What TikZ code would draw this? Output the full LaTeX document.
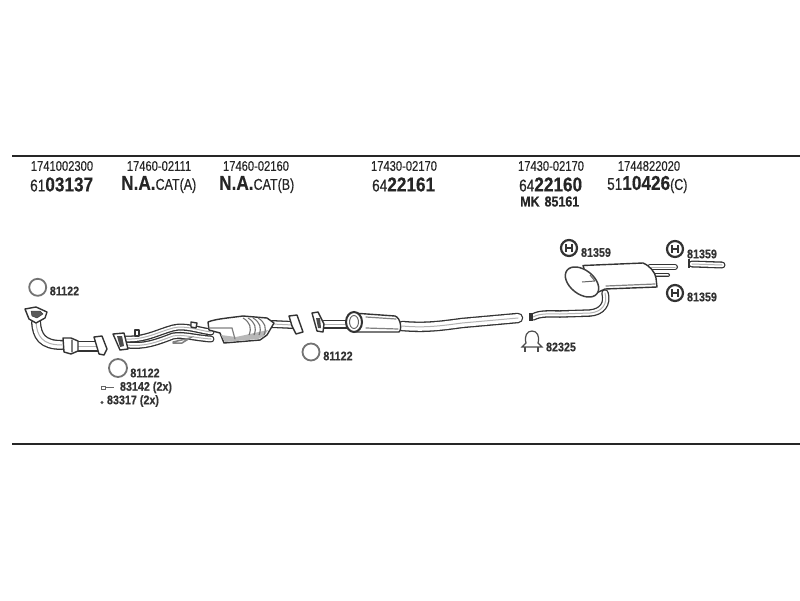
\documentclass[tikz,border=0pt]{standalone}
\usepackage{fontspec}
\setmainfont{Liberation Sans}
\newfontfamily\nrw[FakeStretch=0.8,FakeBold=0.25]{Liberation Sans}
\newfontfamily\nrwb[FakeStretch=0.86,FakeBold=0.3]{Liberation Sans Bold}
\newcommand{\smtxt}{\fontsize{14}{14}\selectfont\nrw}
\newcommand{\midtxt}{\fontsize{17}{17}\selectfont\nrw}
\newcommand{\captxt}{\fontsize{15.6}{15.6}\selectfont\nrw}
\newcommand{\bigtxt}[1]{{\fontsize{20}{20}\selectfont\nrwb #1}}
\tikzset{
  hdr/.style={inner sep=0pt,font=\smtxt,text=black!85},
  part/.style={inner sep=0pt,font=\midtxt,anchor=west,text=black!85},
  lbl/.style={inner sep=0pt,font=\fontsize{12.5}{12.5}\selectfont\nrwb,text=black!80},
  ringa/.style={draw=black!55,line width=1.8pt,fill=white},
  hexa/.style={draw=black!80,line width=2.2pt,fill=white},
  body/.style={draw=black!80,line width=1.4pt,fill=white,line join=round},
  shade/.style={draw=black!50,line width=1.2pt,line cap=round},
  outer/.style={draw=black!80,line cap=round,line join=round},
  inner/.style={draw=white,line cap=round,line join=round},
  core/.style={draw=black!30,line width=1pt,line cap=round,line join=round}
}
\newcommand{\pipe}[2]{%
  \path[outer,line width=#1pt] #2;
  \path[inner,line width=#1pt-2.6pt] #2;
  \path[core] #2;}
\begin{document}
\begin{tikzpicture}[x=1pt,y=-1pt]
\useasboundingbox (0,0) rectangle (800,600);
\fill[white] (0,0) rectangle (800,600);
\draw[line width=2pt,black!85] (12,155.5) -- (800,155.5);
\draw[line width=1.6pt,black!85] (12,444) -- (800,444);
% header
\node[hdr] (h1) at (62,166) {1741002300};
\node[hdr] (h2) at (159,166) {17460-02111};
\node[hdr] (h3) at (256,166) {17460-02160};
\node[hdr] (h4) at (404,166) {17430-02170};
\node[hdr] (h5) at (551,166) {17430-02170};
\node[hdr] (h6) at (649,166) {1744822020};
\node[part] (p1) at (30,184.5) {61\bigtxt{03137}};
\node[part] (p2) at (121,184.5) {\bigtxt{N.A.}{\captxt CAT(A)}};
\node[part] (p3) at (219,184.5) {\bigtxt{N.A.}{\captxt CAT(B)}};
\node[part] (p4) at (372,184.5) {64\bigtxt{22161}};
\node[part] (p5) at (519,184.5) {64\bigtxt{22160}};
\node[part] (p6) at (607,184.5) {51\bigtxt{10426}{\captxt (C)}};
\node[part,font=\fontsize{14.5}{14.5}\selectfont\nrwb] (p7) at (520,201.5) {MK\hspace{5pt}85161};
% rings
\draw[ringa] (37.7,287.3) circle (8.5);
\draw[ringa] (118,368) circle (9);
\draw[ringa] (311,352) circle (8.5);
\node[lbl] (r1) at (64.5,291) {81122};
\node[lbl] (r2) at (145,373) {81122};
\node[lbl] (r3) at (338,356) {81122};
\node[lbl] (r4) at (146,387.5) {83142 (2x)};
\node[lbl] (r5) at (133,401) {83317 (2x)};
\draw[black!60,line width=0.8pt] (101,386) rectangle (105,389);
\draw[black!60,line width=1.6pt] (105,387.5) -- (114,387.5);
\fill[black!70] (102,402.5) circle (1.7);
% front pipe
\pipe{10}{(36,322) .. controls (37,336) and (42,345) .. (62,345)}
\pipe{11}{(76,346) -- (98,346)}
\draw[body] (63,338) -- (71,338) -- (78,341) -- (78,351) -- (71,354) -- (64,352) -- cycle;
\draw[shade] (72,340) -- (72,352);
\draw[body] (94,337) -- (102,336) -- (107,349) -- (104,355) -- (99,354) -- cycle;
\draw[body] (25,309) -- (36,307) -- (47,312) -- (45,318) -- (36,323) -- (29,319) -- cycle;
\draw[fill=black!65,draw=black!80] (31,311) -- (40,311) -- (43,314) -- (37,318) -- (32,316) -- cycle;
% middle pipe
\pipe{7}{(127,345) .. controls (145,347) and (157,342) .. (173,336) .. controls (183,334) and (195,338) .. (211,339)}
\pipe{7}{(125,339) .. controls (145,340) and (158,332) .. (173,328) .. controls (185,325) and (197,330) .. (211,332)}
\draw[body] (113,334) -- (124,333) -- (128,349) -- (120,350) -- cycle;
\fill[black!70] (117,336) -- (122,336) -- (124,346) -- (120,347) -- cycle;
\draw[body] (135,330) rectangle (139,336);
\draw[shade,line width=1.5pt] (173,342) -- (190,338) -- (182,343) -- (173,343);
\draw[body] (191,322) -- (197,323) -- (196,328) -- (191,327) -- cycle;
% cat
\pipe{8}{(272,324) -- (293,325)}
\draw[body] (208,322) .. controls (215,319) and (228,318) .. (243,316) -- (267,318) -- (274,323) -- (267,335) -- (260,340) -- (224,343) -- (220,333) -- (209,330) -- cycle;
\fill[black!28] (221,335) -- (236,337) -- (268,330) -- (264,336) -- (258,339) -- (225,342) -- cycle;
\foreach \i in {0,5,10,15}{\draw[black!55,line width=1.1pt] (243+\i,318) .. controls (250+\i,322) and (252+\i,328) .. (249+\i,335);}
\draw[shade] (209,328) -- (232,328) -- (235,339);
\draw[body] (289,316) -- (297,315) -- (303,332) -- (296,334) -- (292,326) -- cycle;
% rear of centre
\pipe{10.5}{(402,326) .. controls (425,328) and (440,326) .. (462,323) -- (518,318)}
\pipe{9}{(324,324) -- (350,324)}
\draw[body] (312,313) -- (318,312) -- (324,324) -- (323,332) -- (317,331) -- cycle;
\fill[black!70] (316,318) -- (320,318) -- (321,328) -- (318,328) -- cycle;
\draw[body] (353,313) -- (395,316) .. controls (401,318) and (402,330) .. (399,332) -- (353,332) -- cycle;
\draw[shade] (366,328) -- (398,329);
\draw[shade] (366,317) -- (396,319);
\draw[black!80,line width=2pt,fill=white] (354,322) ellipse (8 and 10);
\draw[black!60,line width=1pt] (354,322) ellipse (4.5 and 6.5);
% rear
\pipe{7.5}{(533,317) .. controls (540,313) and (550,314) .. (560,314) -- (590,313) .. controls (602,312) and (608,304) .. (605,293)}
\fill[black!80] (529,312.5) rectangle (533,321);
\pipe{6}{(650,267) -- (675,267)}
\pipe{4}{(655,275) -- (668,275)}
\draw[body] (583,265.5) -- (643,263) .. controls (650,266) and (655,272) .. (656,278) -- (657,287) -- (605,289) -- (592,295) -- cycle;
\draw[shade] (606,286) -- (655,284);
\draw[black!75,line width=1.5pt,fill=white,rotate around={-38:(582,282)}] (582,282) ellipse (19 and 12);
\draw[black!60,line width=1pt] (582,282) -- (595,281) (590,275) -- (595,281);
\pipe{7}{(692,264) -- (722,265)}
\draw[black!80,line width=1.8pt] (689,259) -- (689,268);
% clamp
\draw[black!70,line width=1.2pt] (522,347) -- (526,343) .. controls (524,336) and (527,331) .. (532,331) .. controls (537,331) and (540,336) .. (538,343) -- (542,347) -- cycle;
\draw[black!70,line width=1.4pt] (525,347) -- (525,352) (538,347) -- (538,352);
\node[lbl] (r6) at (561,347) {82325};
% hex rings
\foreach \cx/\cy in {569/248,675/249,675/293}{
 \draw[hexa] (\cx,\cy) circle (8);
 \draw[black!80,line width=1.1pt] (\cx-3,\cy-4) -- (\cx-3,\cy+4) (\cx+3,\cy-4) -- (\cx+3,\cy+4) (\cx-3,\cy) -- (\cx+3,\cy);
}
\node[lbl] (r7) at (596,252.5) {81359};
\node[lbl] (r8) at (702,254) {81359};
\node[lbl] (r9) at (702,297) {81359};
\end{tikzpicture}
\end{document}
